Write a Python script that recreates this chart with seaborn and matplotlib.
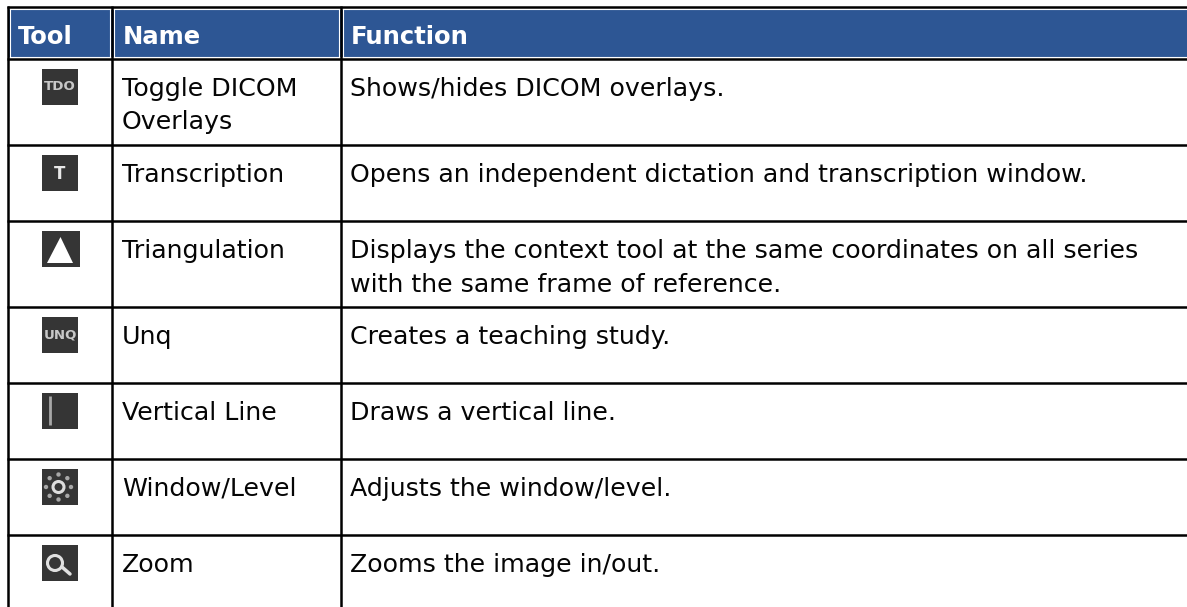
import matplotlib
matplotlib.use('Agg')
import matplotlib.pyplot as plt
from matplotlib.patches import Rectangle, Polygon, Circle
import seaborn as sns
import numpy as np

sns.set_theme(style='white')
plt.rcParams['font.family'] = ['DejaVu Sans']

# table content
headers = ['Tool', 'Name', 'Function']
names = [['Toggle DICOM', 'Overlays'], ['Transcription'], ['Triangulation'], ['Unq'],
         ['Vertical Line'], ['Window/Level'], ['Zoom']]
functions = [['Shows/hides DICOM overlays.'],
             ['Opens an independent dictation and transcription window.'],
             ['Displays the context tool at the same coordinates on all series',
              'with the same frame of reference.'],
             ['Creates a teaching study.'],
             ['Draws a vertical line.'],
             ['Adjusts the window/level.'],
             ['Zooms the image in/out.']]
icon_labels = ['TDO', 'T', '', 'UNQ', '', '', '']

# layout in pixels
W, H = 1187, 607
col_lines = [8, 112, 340.5]
row_lines = [7, 59, 145, 221, 307, 383, 459, 535]
header_blue = '#2d5694'
icon_dark = '#353535'
line_w = 1.8

fig = plt.figure(figsize=(W / 100, H / 100), dpi=100)

# header band through seaborn heatmap
header_ax = fig.add_axes([9 / W, 1 - 58 / H, (W - 9) / W, 49 / H])
sns.heatmap(np.ones((1, 3)), cmap=[header_blue], cbar=False, ax=header_ax,
            xticklabels=False, yticklabels=False)

ax = fig.add_axes([0, 0, 1, 1])
ax.set_xlim(0, W)
ax.set_ylim(H, 0)
ax.axis('off')
ax.patch.set_alpha(0)

# white inner edge of the header cells
ax.hlines([9, 57], 9, W, color='white', lw=0.8)
for x in col_lines[1:]:
    ax.vlines([x - 2, x + 2], 8, 58, color='white', lw=0.8)
ax.vlines(col_lines[0] + 2, 8, 58, color='white', lw=0.8)

# grid
ax.hlines(row_lines, col_lines[0] - 1, W, color='black', lw=line_w)
ax.vlines(col_lines, 6, H, color='black', lw=line_w)

# header text
header_x = [18, 123, 351]
for x, t in zip(header_x, headers):
    ax.text(x, 44.5, t, color='white', fontsize=17.5, fontweight='bold', va='baseline', ha='left')

# body text
text_x = [122, 350]
line_gap = 33.5
for i, (n, f) in enumerate(zip(names, functions)):
    base = row_lines[i + 1] + 37
    for k, t in enumerate(n):
        ax.text(text_x[0], base + k * line_gap, t, fontsize=18.2, color='#050505', va='baseline', ha='left')
    for k, t in enumerate(f):
        ax.text(text_x[1], base + k * line_gap, t, fontsize=18.2, color='#050505', va='baseline', ha='left')

# icons
for i, lab in enumerate(icon_labels):
    top = row_lines[i + 1] + 10
    ax.add_patch(Rectangle((42, top), 38 if i == 2 else 36, 36, color=icon_dark, lw=0))
    cy = top + 18
    if lab == 'T':
        ax.text(59.5, cy + 1, lab, color='#e8e8e8', fontsize=12, fontweight='bold', ha='center', va='center')
    elif lab:
        ax.text(60, cy, lab, color='#c8c8c8', fontsize=9.6, fontweight='bold', ha='center', va='center')
    if i == 2:
        ax.add_patch(Polygon([[60.5, top + 6], [47, top + 32], [73, top + 32]], color='white', lw=0))
    if i == 4:
        ax.vlines(49.5, top + 3, top + 32, color='#a8a8a8', lw=2)
    if i == 5:
        ax.add_patch(Circle((58.5, cy), 5.5, fill=False, ec='#dddddd', lw=2.2))
        for a in np.deg2rad(np.arange(0, 360, 45)):
            ax.add_patch(Circle((58.5 + 12.5 * np.cos(a), cy + 12.5 * np.sin(a)), 2.2, color='#a8a8a8', lw=0))
    if i == 6:
        ax.add_patch(Circle((55, cy), 7.5, fill=False, ec='#e0e0e0', lw=2.2))
        ax.plot([62, 70], [cy + 4, cy + 11], color='#e0e0e0', lw=2.5, solid_capstyle='round')

fig.savefig('out.png', dpi=100)
